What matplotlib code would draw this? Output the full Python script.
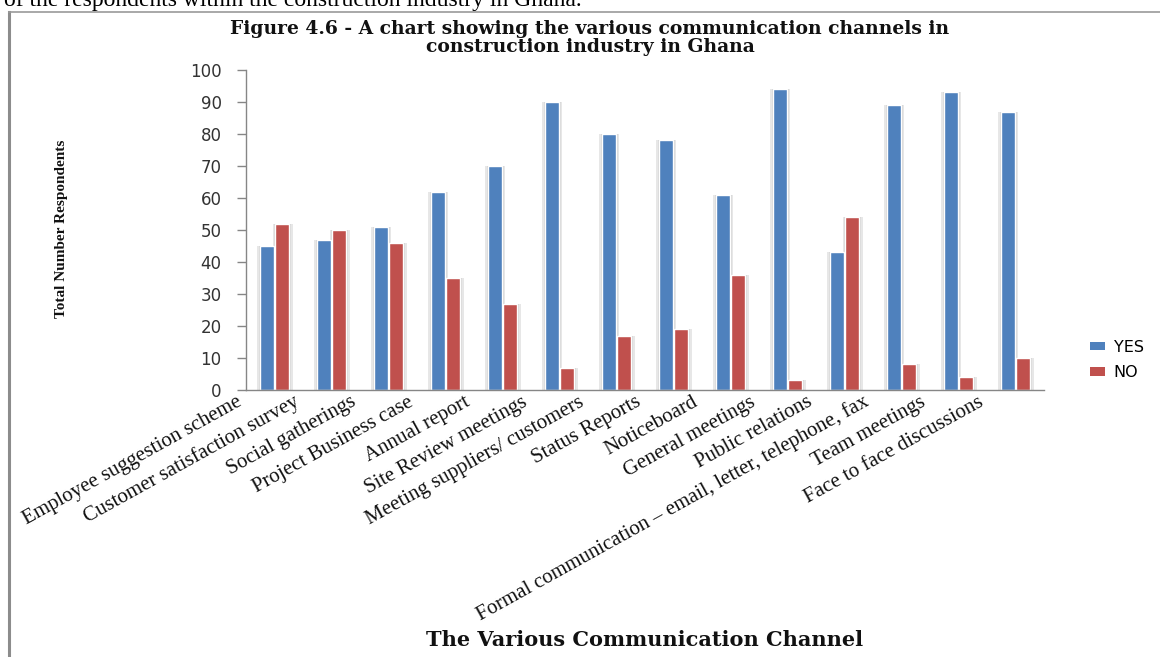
import matplotlib
matplotlib.use("Agg")
import matplotlib.pyplot as plt
import matplotlib.transforms as mtransforms
from matplotlib.patches import Patch
from matplotlib.lines import Line2D
import numpy as np

# Survey results: number of respondents per communication channel
channels = [
    "Employee suggestion scheme",
    "Customer satisfaction survey",
    "Social gatherings",
    "Project Business case",
    "Annual report",
    "Site Review meetings",
    "Meeting suppliers/ customers",
    "Status Reports",
    "Noticeboard",
    "General meetings",
    "Public relations",
    "Formal communication \u2013 email, letter, telephone, fax",
    "Team meetings",
    "Face to face discussions",
]
yes_counts = [45, 47, 51, 62, 70, 90, 80, 78, 61, 94, 43, 89, 93, 87]
no_counts = [52, 50, 46, 35, 27, 7, 17, 19, 36, 3, 54, 8, 4, 10]
series_names = ["YES", "NO"]
y_ticks = list(range(0, 101, 10))

W, H = 1160, 657
fig = plt.figure(figsize=(W / 100, H / 100), dpi=100)


def fx(px):
    return px / W


def fy(py):
    return 1 - py / H


ax = fig.add_axes([fx(246), fy(390), fx(1044) - fx(246), fy(70) - fy(390)])

x = np.arange(len(channels))
bar_w = 0.24
offset = 0.135
blue = "#4F81BD"
red = "#C0504D"

for vals, dx, col in ((yes_counts, -offset, blue), (no_counts, offset, red)):
    # soft drop shadow behind each bar
    ax.bar(x + dx + 0.01, vals, width=bar_w + 0.11, color="#d8d8d8",
           alpha=0.6, linewidth=0, zorder=1)
    ax.bar(x + dx + 0.01, vals, width=bar_w + 0.06, color="#c4c4c4",
           alpha=0.5, linewidth=0, zorder=1)
    ax.bar(x + dx, vals, width=bar_w, color=col, edgecolor="white",
           linewidth=1.0, zorder=2)

ax.set_xlim(-0.5, len(channels) - 0.5)
ax.set_ylim(0, 100)
ax.set_yticks(y_ticks)
ax.tick_params(axis="y", length=6.5, width=1, color="#868686", direction="out",
               pad=11, labelsize=12, labelcolor="#333333")
ax.tick_params(axis="x", length=0, labelbottom=False)
for s in ("top", "right"):
    ax.spines[s].set_visible(False)
for s in ("left", "bottom"):
    ax.spines[s].set_color("#868686")
    ax.spines[s].set_linewidth(1.0)

# rotated category labels, anchored just below-left of each group
lab_tr = ax.get_xaxis_transform() + mtransforms.ScaledTranslation(
    -0.315, -0.15, fig.dpi_scale_trans)
for i, name in enumerate(channels):
    ax.text(i, 0, name, transform=lab_tr, rotation=29, rotation_mode="anchor",
            ha="right", va="baseline", family="Liberation Serif", fontsize=15,
            color="#111111")

# titles
title_font = dict(family="DejaVu Serif", weight="bold", fontsize=13.5,
                  color="#111111", ha="center", va="center")
fig.text(fx(590), fy(29), "Figure 4.6 - A chart showing the various communication channels in",
         **title_font)
fig.text(fx(590), fy(47), "construction industry in Ghana", **title_font)

fig.text(fx(645), fy(640), "The Various Communication Channel",
         family="DejaVu Serif", weight="bold", fontsize=15, color="#111111",
         ha="center", va="center")

fig.text(fx(61), fy(229), "Total Number Respondents", rotation=90,
         family="Liberation Serif", weight="bold", fontsize=11,
         color="#111111", ha="center", va="center")

# legend
handles = [Patch(facecolor=blue, edgecolor="none"),
           Patch(facecolor=red, edgecolor="none")]
fig.legend(handles, series_names, loc="center left",
           bbox_to_anchor=(fx(1076), fy(360)), frameon=False,
           handlelength=0.9, handleheight=0.45, handletextpad=0.55,
           labelspacing=0.65, prop=dict(family="DejaVu Sans", size=11.5))

# running text of the page above the figure frame
fig.text(fx(4), fy(6), "of the respondents within the construction industry in Ghana.",
         family="Liberation Serif", fontsize=17, color="black",
         ha="left", va="baseline")

# figure frame
fig.add_artist(Line2D([fx(9), fx(9)], [fy(12), 0], transform=fig.transFigure,
                      color="#8c8c8c", lw=2.2))
fig.add_artist(Line2D([fx(9), 1], [fy(12), fy(12)], transform=fig.transFigure,
                      color="#9a9a9a", lw=1.2))

fig.savefig("out.png", dpi=100)
